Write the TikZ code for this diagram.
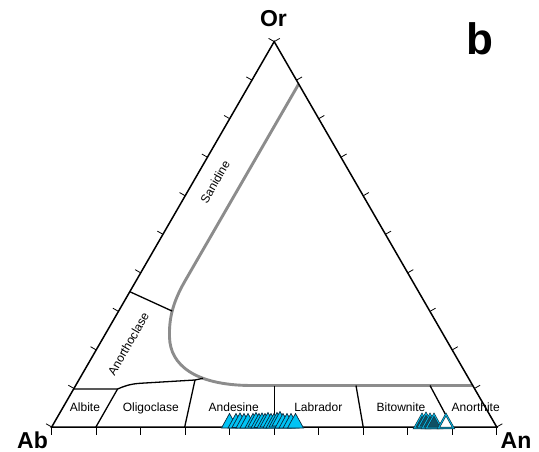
\documentclass[tikz,border=0pt]{standalone}
\usepackage{fontspec}
\setmainfont{Liberation Sans}
\usetikzlibrary{calc}
\definecolor{curvegray}{RGB}{140,140,140}
\definecolor{mcyan}{RGB}{0,195,245}
\definecolor{mdark}{RGB}{10,40,60}
\definecolor{tealdark}{RGB}{15,80,100}
\definecolor{tealline}{RGB}{20,60,75}
\begin{document}
\begin{tikzpicture}[x=1pt,y=-1pt,
  edge/.style={line width=1.5pt,line join=miter},
  bound/.style={line width=1.3pt},
  tickmark/.style={line width=0.8pt},
  graycurve/.style={line width=2.9pt,draw=curvegray},
  lab/.style={font=\fontsize{12}{14}\selectfont,anchor=base,inner sep=0pt},
  rlab/.style={font=\fontsize{12}{14}\selectfont,inner sep=0pt,rotate=60},
  big/.style={font=\fontsize{23}{26}\selectfont\bfseries,anchor=base,inner sep=0pt},
  mkA/.style={fill=mcyan,draw=mdark,line width=0.7pt},
  mkB/.style={fill=tealdark,draw=tealline,line width=0.7pt,double=mcyan,double distance=0.7pt},
  mkC/.style={fill=white,draw=tealline,line width=0.7pt,double=mcyan,double distance=0.7pt}]
\useasboundingbox (0,0) rectangle (539,452);
% vertices
\coordinate (Ab) at (51.7,427);
\coordinate (An) at (496.7,427);
\coordinate (Or) at (274.2,41.6);
% labels of vertices
\node[big] (lAb) at (32.5,448) {Ab};
\node[big] (lOr) at (273.5,26.7) {Or};
\node[big] (lAn) at (516,448) {An};
\node[font=\fontsize{44}{48}\selectfont\bfseries,anchor=base,inner sep=0pt] (lb) at (479.5,54.5) {b};
% ticks
\foreach \k in {0,...,10}{
  \draw[tickmark] ($(Ab)!\k/10!(An)$) -- ++(0,7.5);
  \draw[tickmark] ($(Ab)!\k/10!(Or)$) -- ++(-5.6,-3.2);
  \draw[tickmark] ($(An)!\k/10!(Or)$) -- ++(5.6,-3.2);
}
% gray curve
\coordinate (g0) at (298.7,84);
\coordinate (g1) at (185,281);
\coordinate (g2) at (169.5,337);
\coordinate (g3) at (250,385.5);
\coordinate (g4) at (472.7,385.5);
\draw[graycurve] (g0) -- (g1) .. controls (172,303.5) and (169,320) .. (g2)
  .. controls (170,365) and (195,385) .. (g3) -- (g4);
% boundaries
\coordinate (s1) at (129.8,291.7);
\coordinate (s2) at (172.2,311.1);
\draw[bound] (s1) -- (s2);
\coordinate (a1) at (73.6,389);
\coordinate (a2) at (117.6,389);
\coordinate (a3) at (140,383.3);
\coordinate (a4) at (195,380);
\coordinate (a5) at (203,378.3);
\draw[bound] (a1) -- (a2) .. controls (124,386.2) and (130,384) .. (a3) -- (a4) -- (a5);
\coordinate (b1) at (95.9,427);
\draw[bound] (a2) -- (b1);
\coordinate (b2) at (184.7,427);
\draw[bound] (a4) -- (b2);
\coordinate (c1) at (274.2,385.5);
\coordinate (c2) at (274.2,427);
\draw[bound] (c1) -- (c2);
\coordinate (d1) at (356,385.5);
\coordinate (d2) at (363.2,427);
\draw[bound] (d1) -- (d2);
\coordinate (e1) at (430,385.5);
\coordinate (e2) at (452.2,427);
\draw[bound] (e1) -- (e2);
% triangle frame
\draw[edge] (Ab) -- (An) -- (Or) -- cycle;
% field labels
\node[lab] (tAlb) at (85,411.5) {Albite};
\node[lab] (tOli) at (150.8,411.5) {Oligoclase};
\node[lab] (tAnd) at (233.7,411.5) {Andesine};
\node[lab] (tLab) at (318.3,411.5) {Labrador};
\node[lab] (tBit) at (401,411.5) {Bitownite};
\node[lab] (tAno) at (475.7,411.5) {Anorthite};
\node[rlab] (tAnc) at (128.3,344) {Anorthoclase};
\node[rlab] (tSan) at (215,181.7) {Sanidine};
% markers, cyan
\foreach \x/\y in {229.5/428,236/428,240/427.5,244/428,248/428,253/428,256/427,259/428,262/427.5,265/428,268/427,271/428,274/428,277/427,280/426,283/428,287/428,291/428,295.5/428}{
  \draw[mkA] (\x-8,\y) -- (\x,\y-14.5) -- (\x+8,\y) -- cycle;
}
% markers, teal
\foreach \x/\y in {422/428,426/427,430/428,434/428}{
  \draw[mkB] (\x-7.5,\y) -- (\x,\y-13.5) -- (\x+7.5,\y) -- cycle;
}
\draw[mkC] (438.5,428) -- (446,414.5) -- (453.5,428) -- cycle;
\end{tikzpicture}
\end{document}
